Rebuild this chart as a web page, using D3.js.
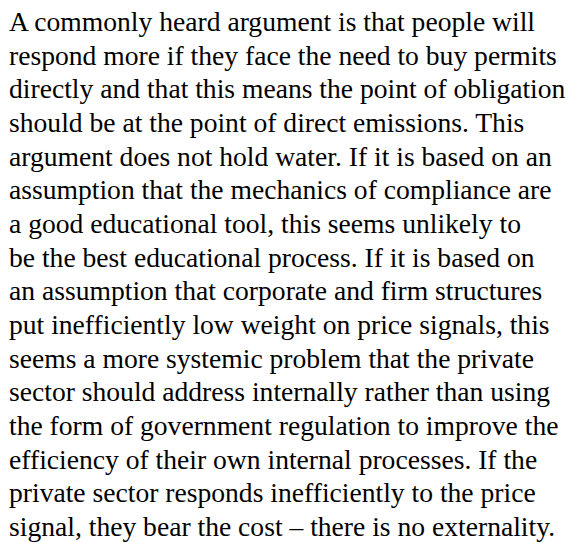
<!DOCTYPE html>
<html>
<head>
<meta charset="utf-8">
<script src="https://cdn.jsdelivr.net/npm/d3@7"></script>
<style>
  html, body { margin: 0; padding: 0; background: #fff; }
</style>
</head>
<body>
<svg id="page" width="576" height="542"></svg>
<script>
// the paragraph, one entry per printed line
let lines = [
  "A commonly heard argument is that people will",
  "respond more if they face the need to buy permits",
  "directly and that this means the point of obligation",
  "should be at the point of direct emissions. This",
  "argument does not hold water. If it is based on an",
  "assumption that the mechanics of compliance are",
  "a good educational tool, this seems unlikely to",
  "be the best educational process. If it is based on",
  "an assumption that corporate and firm structures",
  "put inefficiently low weight on price signals, this",
  "seems a more systemic problem that the private",
  "sector should address internally rather than using",
  "the form of government regulation to improve the",
  "efficiency of their own internal processes. If the",
  "private sector responds inefficiently to the price",
  "signal, they bear the cost \u2013 there is no externality."
]
let lineNo = d3.range(lines.length)

let svg = d3.select('#page'),
    width = +svg.attr('width'),
    height = +svg.attr('height')

let margin = {left: 9, top: 31, bottom: 536}

// line index -> baseline
let y = d3.scaleLinear()
    .domain([0, lines.length - 1])
    .range([margin.top, margin.bottom])

svg.append('g')
    .selectAll('text')
    .data(lineNo)
    .enter().append('text')
        .attr('x', margin.left)
        .attr('y', d => y(d))
        .attr('font-family', 'Liberation Serif')
        .attr('font-size', 27.6)
        .attr('fill', '#000')
        .text(d => lines[d])
</script>
</body>
</html>
